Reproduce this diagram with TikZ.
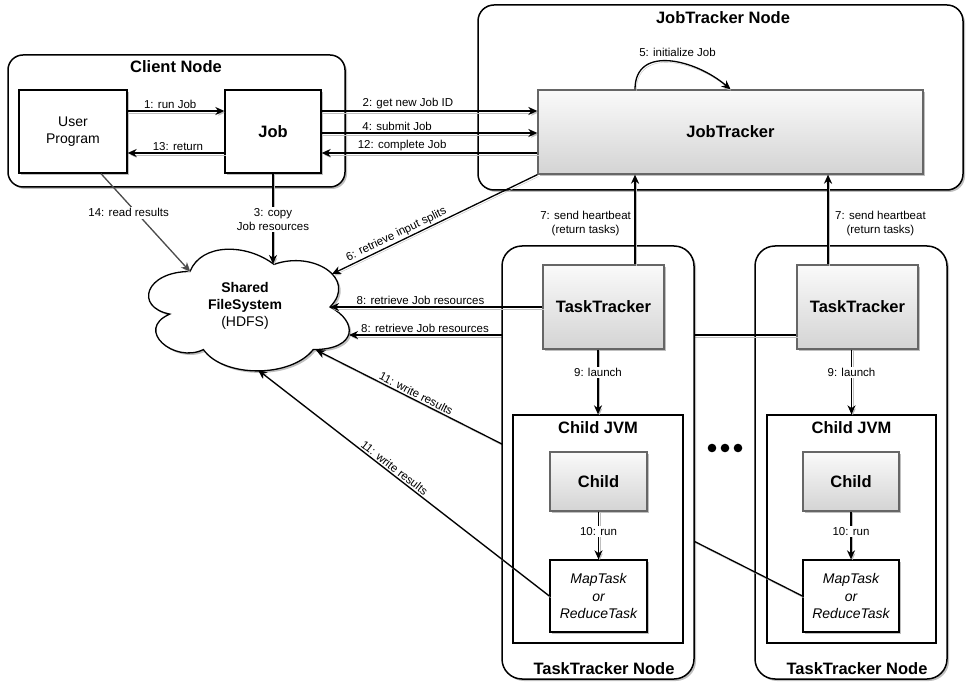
\documentclass[tikz,border=0pt]{standalone}
\usepackage{fontspec}
\setmainfont{Liberation Sans}
\usetikzlibrary{arrows.meta,shadows,calc}

\tikzset{
  lbl/.style={font=\fontsize{11.5}{14}\selectfont, inner sep=1.5pt},
  lblw/.style={lbl, fill=white, align=center},
  ttl/.style={font=\fontsize{16.5}{20}\selectfont\bfseries, inner sep=0pt},
  med/.style={font=\fontsize{14}{17.5}\selectfont, align=center},
  boxshadow/.style={drop shadow={shadow xshift=2pt, shadow yshift=-2pt, opacity=0.25, fill=black}},
  container/.style={draw, line width=1.5pt, fill=white, rounded corners=#1, boxshadow},
  wbox/.style={draw, line width=1.3pt, fill=white, boxshadow, med},
  gbox/.style={draw=black!60, line width=1.3pt, top color=black!2, bottom color=black!17,
    boxshadow, font=\fontsize{16.5}{20}\selectfont\bfseries},
  lineshadow/.style={preaction={draw=black!25, transform canvas={shift={(1.3pt,-1.8pt)}}}},
  conn/.style={line width=1.3pt, lineshadow},
  arr/.style={conn, -{Stealth[length=9pt, width=8pt, inset=2.8pt]}},
}

\begin{document}
\begin{tikzpicture}[x=1pt, y=-1pt]
\useasboundingbox (0,0) rectangle (966,684);

% ---------- containers of the upper row ----------
\node[container=15pt, minimum width=337pt, minimum height=132pt] (client) at (176.5,121) {};
\node[ttl] (clientt) at (176,67) {Client Node};
\node[container=16pt, minimum width=485pt, minimum height=185pt] (jtnode) at (720.5,97.5) {};
\node[ttl] (jtnodet) at (723,18) {JobTracker Node};

\node[wbox, minimum width=108pt, minimum height=83pt] (user) at (73,131.5) {User\\Program};
\node[wbox, minimum width=96pt, minimum height=83pt, font=\fontsize{16.5}{20}\selectfont\bfseries] (job) at (273,131.5) {Job};
\node[gbox, minimum width=385pt, minimum height=84pt] (jt) at (730.5,132) {JobTracker};

% ---------- shared file system ----------
\draw[line width=1.3pt, fill=white,
      preaction={fill=black!25, transform canvas={shift={(2pt,-2pt)}}}]
  (190,271.5) .. controls (145.2,271.5) and (134,307) .. (169.8,314.1)
  .. controls (134,329.7) and (174.3,363.8) .. (203.4,349.6)
  .. controls (223.6,378) and (290.8,378) .. (313.2,349.6)
  .. controls (358,349.6) and (358,321.2) .. (330,307)
  .. controls (358,278.6) and (313.2,250.2) .. (274,264.4)
  .. controls (246,243.1) and (201.2,243.1) .. (190,271.5) -- cycle;
\node[font=\fontsize{14}{17}\selectfont, align=center] (hdfs) at (245,306)
  {\textbf{Shared}\\\textbf{FileSystem}\\(HDFS)};
\coordinate (c14) at (190,271.5);
\coordinate (c3) at (273,264);
\coordinate (c6) at (332,274);
\coordinate (c8a) at (330,307);
\coordinate (c8b) at (349,335);
\coordinate (c11a) at (316,350);
\coordinate (c11b) at (258,370);

% ---------- client / job tracker connectors ----------
\draw[arr] (user.east |- 0,111) -- node[lbl, above, pos=0.44] (l1) {1: run Job} (job.west |- 0,111);
\draw[arr] (job.west |- 0,153) -- node[lbl, above, pos=0.48] (l13) {13: return} (user.east |- 0,153);
\draw[arr] (job.east |- 0,111) -- node[lbl, above, pos=0.40] (l2) {2: get new Job ID} (jt.west |- 0,111);
\draw[arr] (job.east |- 0,133) -- node[lbl, above, pos=0.35] (l4) {4: submit Job} (jt.west |- 0,133);
\draw[arr] (jt.west |- 0,153) -- node[lbl, above, pos=0.627] (l12) {12: complete Job} (job.east |- 0,153);
\draw[arr] ([xshift=-95.5pt]jt.north) .. controls +(0,-45) and +(-35,-30) .. (jt.north);
\node[lbl] (l5) at (677.5,52) {5: initialize Job};

% ---------- second task tracker node ----------
\node[container=20pt, minimum width=192pt, minimum height=433pt] (ttn2) at (851,462.5) {};
\node[ttl] (ttn2t) at (857,669) {TaskTracker Node};
\node[gbox, minimum width=121pt, minimum height=84pt] (tt2) at (857.5,307) {TaskTracker};
\node[draw, line width=1.3pt, fill=white, minimum width=169pt, minimum height=228pt] (jvm2) at (851.5,529) {};
\node[ttl] (jvm2t) at (851.5,428) {Child JVM};
\node[gbox, minimum width=96pt, minimum height=59pt] (child2) at (851,481.5) {Child};
\node[wbox, minimum width=96pt, minimum height=72pt, font=\fontsize{14}{17.5}\selectfont\itshape] (map2) at (851,596) {MapTask\\or\\ReduceTask};
\draw[arr] (tt2.south -| jvm2.north) -- node[lblw, pos=0.35] (l9b) {9: launch} (jvm2.north);
\draw[arr] (child2.south) -- node[lblw, pos=0.41] (l10b) {10: run} (map2.north);

\coordinate (hb2) at ([xshift=-29.5pt]tt2.north);
\draw[arr] (hb2) -- node[lbl, right=5pt, pos=0.45, align=center] (l7b) {7: send heartbeat\\(return tasks)} (hb2 |- jt.south);
\draw[arr] (tt2.west |- c8b) -- node[lbl, above, pos=0.83] (l8b) {8: retrieve Job resources} (c8b);
\draw[arr] (map2.west) -- node[lbl, above, sloped, pos=0.8] (l11a) {11: write results} (c11a);

% ---------- first task tracker node ----------
\node[container=20pt, minimum width=192pt, minimum height=433pt] (ttn1) at (598,462.5) {};
\node[ttl] (ttn1t) at (604,669) {TaskTracker Node};
\node[gbox, minimum width=121pt, minimum height=84pt] (tt1) at (603.5,307) {TaskTracker};
\node[draw, line width=1.3pt, fill=white, minimum width=170pt, minimum height=228pt] (jvm1) at (598,529) {};
\node[ttl] (jvm1t) at (598,428) {Child JVM};
\node[gbox, minimum width=97pt, minimum height=59pt] (child1) at (598.5,481.5) {Child};
\node[wbox, minimum width=97pt, minimum height=72pt, font=\fontsize{14}{17.5}\selectfont\itshape] (map1) at (598.5,596) {MapTask\\or\\ReduceTask};
\draw[arr] (tt1.south -| jvm1.north) -- node[lblw, pos=0.35] (l9a) {9: launch} (jvm1.north);
\draw[arr] (child1.south) -- node[lblw, pos=0.41] (l10a) {10: run} (map1.north);

\coordinate (hb1) at ([xshift=31.5pt]tt1.north);
\draw[arr] (hb1) -- node[lbl, left=2pt, pos=0.45, align=center] (l7a) {7: send heartbeat\\(return tasks)} (hb1 |- jt.south);
\draw[arr] (tt1.west) -- node[lbl, above, pos=0.574] (l8a) {8: retrieve Job resources} (c8a);
\draw[arr] (map1.west) -- node[lbl, above, sloped, pos=0.545] (l11b) {11: write results} (c11b);

% ---------- connectors to the file system ----------
\draw[arr] (jt.south west) -- node[lbl, above, sloped, pos=0.67] (l6) {6: retrieve input splits} (c6);
\draw[arr] (job.south) -- node[lblw, pos=0.51] (l3) {3: copy\\Job resources} (c3);
\draw[arr, draw=black!70] ([xshift=28pt]user.south) -- node[lblw, pos=0.4, xshift=-8pt] (l14) {14: read results} (c14);

% ---------- more task tracker nodes ----------
\foreach \dx in {-13,0,13} \fill (725+\dx,448) circle (4.3pt);

\end{tikzpicture}
\end{document}
